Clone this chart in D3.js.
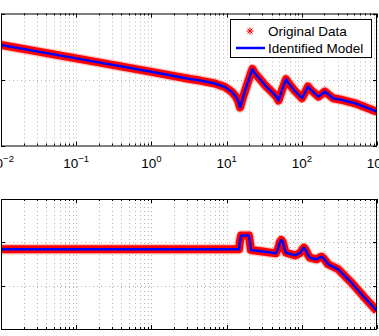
<!DOCTYPE html>
<html lang="en">
<head>
<meta charset="utf-8">
<title>Bode plot - original data vs identified model</title>
<style>
  body { margin: 0; background: #fff; }
  svg { display: block; font-family: "Liberation Sans", Arial, sans-serif; }
</style>
</head>
<body>
<svg width="379" height="336"></svg>
<script src="https://cdn.jsdelivr.net/npm/d3@7/dist/d3.min.js"></script>
<script>
// frequency points (rad/s)
var magFreq = [0.01, 0.1, 1, 3.26, 4.43, 7.0, 9.5, 11.8, 13.3, 14.3, 15.1, 16.2, 18.1, 21.0, 22.1, 23.5, 26.2, 32.4, 40.2, 46.0, 49.0,
               55.0, 61.7, 66.0, 78.8, 100.6, 121, 130, 166, 203, 260, 332, 510, 1000];
var magValues = [26.1, 16.0, 5.8, 0.4, -0.8, -3.0, -5.7, -9.5, -13.0, -16.5, -21.2, -15.0, -6.4, 4.5, 8.0, 5.0, 1.9, -4.2, -9.5, -13.0, -15.9,
                 -7.5, 0.2, -2.5, -8.0, -14.2, -5.3, -7.5, -13.0, -9.1, -14.2, -15.3, -18.0, -24.4];

var phaseFreq = [0.01, 1, 14.6, 15.0, 15.6, 19.8, 20.4, 21.0, 30, 45, 48, 51, 53.5, 56, 59, 61.7, 82, 95, 102, 107, 113, 122, 128,
                 157, 173, 183, 195, 224, 305, 457, 686, 1000];
var phaseValues = [-58, -58, -58, -50, -42.2, -42.2, -50, -58.8, -60.6, -62.7, -58, -50, -47.3, -50, -58, -62, -65, -62.3, -58, -56.2, -59, -65, -67.7,
                   -69.6, -67.5, -66.6, -68.5, -75.3, -81.1, -96.6, -113.9, -129.2];

var xTicks = [1e-2, 1e-1, 1e0, 1e1, 1e2, 1e3];
var xTickExp = ["\u22122", "\u22121", "0", "1", "2", "3"];
var magTicks = [-50, 0, 50];
var phaseTicks = [-150, -100, -50, 0];
var legendLabels = ["Original Data", "Identified Model"];

var svg = d3.select("svg");

var x = d3.scaleLog()
    .domain([1e-2, 1e3])
    .range([1, 377]);

// minor log ticks 2..9 per decade
var minorTicks = [];
for (var e = -2; e < 3; e++) {
  for (var m = 2; m < 10; m++) minorTicks.push(m * Math.pow(10, e));
}

function drawPanel(top, bottom, yDomain, yTicks, freq, vals, withLegend) {
  var y = d3.scaleLinear().domain(yDomain).range([bottom, top]);
  var g = svg.append("g");

  // grid
  var grid = g.append("g")
      .attr("stroke", "#b4b4b4")
      .attr("stroke-width", 1)
      .attr("stroke-dasharray", "1,3");
  grid.selectAll("line.vx")
    .data(xTicks.concat(minorTicks))
    .enter().append("line")
      .attr("x1", function(d) { return Math.round(x(d)) + 0.5; })
      .attr("x2", function(d) { return Math.round(x(d)) + 0.5; })
      .attr("y1", top)
      .attr("y2", bottom);
  grid.selectAll("line.hy")
    .data(yTicks.slice(1, -1))
    .enter().append("line")
      .attr("x1", x.range()[0])
      .attr("x2", x.range()[1])
      .attr("y1", function(d) { return Math.round(y(d)) + 0.5; })
      .attr("y2", function(d) { return Math.round(y(d)) + 0.5; });

  // data
  var line = d3.line()
      .x(function(d, i) { return x(freq[i]); })
      .y(function(d) { return y(d); });

  var clipId = "clip" + top;
  svg.append("clipPath").attr("id", clipId)
    .append("rect")
      .attr("x", x.range()[0]).attr("y", top)
      .attr("width", x.range()[1] - x.range()[0]).attr("height", bottom - top);

  var dg = g.append("g").attr("clip-path", "url(#" + clipId + ")");
  dg.append("path")
      .attr("d", line(vals))
      .attr("fill", "none")
      .attr("stroke", "#ff4040")
      .attr("stroke-opacity", 0.3)
      .attr("stroke-width", 10.5)
      .attr("stroke-linejoin", "round");
  dg.append("path")
      .attr("d", line(vals))
      .attr("fill", "none")
      .attr("stroke", "#ff0000")
      .attr("stroke-width", 8)
      .attr("stroke-linejoin", "round");
  dg.append("path")
      .attr("d", line(vals))
      .attr("fill", "none")
      .attr("stroke", "#0000ff")
      .attr("stroke-width", 2.5)
      .attr("stroke-linejoin", "round");

  // ticks (inside the box)
  var tk = g.append("g").attr("stroke", "#000").attr("stroke-width", 1);
  [top, bottom].forEach(function(yy) {
    var dir = yy === top ? 1 : -1;
    tk.selectAll(null)
      .data(xTicks)
      .enter().append("line")
        .attr("x1", function(d) { return Math.round(x(d)) + 0.5; })
        .attr("x2", function(d) { return Math.round(x(d)) + 0.5; })
        .attr("y1", yy).attr("y2", yy + dir * 4);
    tk.selectAll(null)
      .data(minorTicks)
      .enter().append("line")
        .attr("x1", function(d) { return Math.round(x(d)) + 0.5; })
        .attr("x2", function(d) { return Math.round(x(d)) + 0.5; })
        .attr("y1", yy).attr("y2", yy + dir * 2);
  });
  [x.range()[0], x.range()[1]].forEach(function(xx, k) {
    var dir = k === 0 ? 1 : -1;
    tk.selectAll(null)
      .data(yTicks)
      .enter().append("line")
        .attr("x1", xx).attr("x2", xx + dir * 4)
        .attr("y1", function(d) { return Math.round(y(d)) + 0.5; })
        .attr("y2", function(d) { return Math.round(y(d)) + 0.5; });
  });

  // box
  g.append("rect")
      .attr("x", x.range()[0] + 0.5)
      .attr("y", top + 0.5)
      .attr("width", x.range()[1] - x.range()[0] - 1)
      .attr("height", bottom - top)
      .attr("fill", "none")
      .attr("stroke", "#000")
      .attr("stroke-width", 1);

  // x tick labels 10^n
  var lab = g.selectAll("text.xl")
    .data(xTicks)
    .enter().append("text")
      .attr("x", function(d) { return x(d); })
      .attr("y", bottom + 22)
      .attr("text-anchor", "middle")
      .attr("font-size", 13.5)
      .attr("fill", "#000");
  lab.append("tspan").text("10");
  lab.append("tspan")
      .attr("dy", -6)
      .attr("font-size", 9.5)
      .text(function(d, i) { return xTickExp[i]; });

  if (withLegend) {
    var lg = svg.append("g").attr("transform", "translate(230,19)");
    lg.append("rect")
        .attr("x", 0.5).attr("y", 0.5)
        .attr("width", 141).attr("height", 38)
        .attr("fill", "#fff")
        .attr("stroke", "#000");
    // asterisk marker
    var ast = lg.append("g")
        .attr("transform", "translate(20,12)")
        .attr("stroke", "#ff0000")
        .attr("stroke-width", 1);
    [[-3.5, 0, 3.5, 0], [0, -3.5, 0, 3.5], [-2.5, -2.5, 2.5, 2.5], [-2.5, 2.5, 2.5, -2.5]].forEach(function(s) {
      ast.append("line").attr("x1", s[0]).attr("y1", s[1]).attr("x2", s[2]).attr("y2", s[3]);
    });
    lg.append("line")
        .attr("x1", 6).attr("x2", 35)
        .attr("y1", 29).attr("y2", 29)
        .attr("stroke", "#0000ff")
        .attr("stroke-width", 2.5);
    lg.selectAll("text")
      .data(legendLabels)
      .enter().append("text")
        .attr("x", 38)
        .attr("y", function(d, i) { return 17 + i * 17; })
        .attr("font-size", 13.5)
        .attr("fill", "#000")
        .text(function(d) { return d; });
  }
}

drawPanel(13.5, 145.5, [-50, 50], magTicks, magFreq, magValues, true);
drawPanel(199, 329, [-150, 0], phaseTicks, phaseFreq, phaseValues, false);
</script>
</body>
</html>
